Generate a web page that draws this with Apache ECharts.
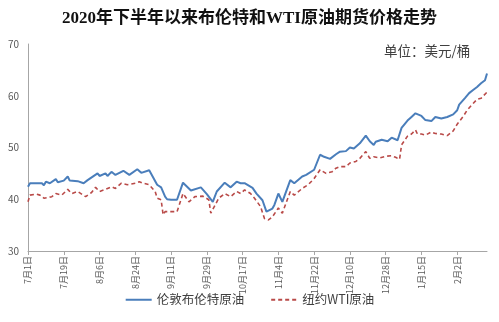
<!DOCTYPE html>
<html>
<head>
<meta charset="utf-8">
<script src="https://cdn.jsdelivr.net/npm/echarts@6/dist/echarts.min.js"></script>
<style>html,body{margin:0;padding:0;background:#fff;}#c{width:499px;height:322px;}</style>
</head>
<body>
<div id="c"></div>
<script>
// Day offsets counted from 2020-07-01 (calendar days)
const startDate = new Date(2020, 6, 1);
const tickLabelDays = [0, 18, 36, 54, 72, 90, 108, 126, 144, 162, 180, 198, 216];

const brentDays = [0,1,7,8,9,11,14,15,18,20,21,25,28,30,35,36,39,40,42,44,48,51,55,57,61,65,67,69,70,72,75,78,82,87,90,91,93,95,99,102,105,107,109,113,115,118,120,123,124,126,128,132,134,138,140,144,147,149,152,155,157,160,162,164,167,170,172,174,175,178,181,183,186,187,188,191,193,195,196,198,200,203,205,208,211,214,216,217,220,222,224,226,228,230,231];
const brent = [42.4,43.1,43.1,42.7,43.4,43.1,43.9,43.3,43.6,44.4,43.6,43.5,43.1,43.7,45.0,44.5,45.0,44.5,45.3,44.7,45.5,44.7,45.8,45.1,45.6,42.8,42.3,40.5,40.0,39.9,39.9,43.2,41.7,42.3,41.0,41.0,39.5,41.5,43.2,42.3,43.4,43.1,43.1,42.2,41.1,39.8,37.6,38.2,38.9,41.1,39.5,43.7,43.1,44.4,44.7,45.7,48.6,48.2,47.8,48.7,49.2,49.3,50.0,49.8,50.8,52.3,51.2,50.5,51.1,51.5,51.2,51.9,51.4,51.2,53.8,55.2,55.9,56.6,56.3,56.1,55.3,55.1,55.9,55.6,55.9,56.4,57.2,58.3,59.6,60.5,61.1,61.7,62.4,63.0,64.3];

const wtiDays = [0,1,4,6,8,9,12,14,17,20,22,25,29,32,34,36,39,42,44,47,50,54,56,58,61,64,65,67,68,69,72,75,78,81,84,88,91,92,96,99,102,105,107,109,112,114,117,119,121,123,126,128,132,134,138,141,144,147,150,153,155,157,160,162,165,167,170,172,174,177,180,183,185,187,188,191,193,195,196,198,200,203,205,208,211,212,214,216,219,221,224,226,228,229,231];
const wti = [39.5,40.8,41.0,40.8,40.2,40.5,40.5,41.1,40.8,41.9,41.1,41.5,40.5,41.3,42.3,41.5,41.9,42.4,42.1,43.1,42.8,43.1,43.4,43.1,42.8,41.5,40.2,39.9,37.0,37.6,37.6,37.6,41.1,39.5,40.5,40.6,39.9,37.3,40.2,41.1,40.5,41.5,41.1,41.8,41.1,40.2,38.6,36.3,36.0,36.6,38.3,37.3,41.5,40.8,42.1,42.8,44.0,45.7,45.0,45.3,46.0,46.3,46.3,47.0,47.3,47.9,49.2,47.9,48.2,48.0,48.3,48.4,48.1,47.7,50.5,52.2,52.6,53.4,52.6,52.6,52.4,53.0,52.7,52.6,52.3,52.2,53.2,54.5,56.0,57.2,58.5,59.3,59.5,59.5,60.7];

const seriesNames = ['伦敦布伦特原油', '纽约WTI原油'];
const titleText = '2020年下半年以来布伦特和WTI原油期货价格走势';
const unitText = '单位：美元/桶';

function dayLabel(d) {
  const dt = new Date(startDate.getTime());
  dt.setDate(dt.getDate() + d);
  return (dt.getMonth() + 1) + '月' + dt.getDate() + '日';
}

const chart = echarts.init(document.getElementById('c'), null, {renderer: 'canvas'});
const cjk = "'Noto Sans CJK SC', sans-serif";
chart.setOption({
  animation: false,
  backgroundColor: '#ffffff',
  title: [{
    text: titleText,
    left: 'center',
    top: 5,
    textStyle: {fontFamily: "'Liberation Serif', 'Noto Sans CJK SC', serif", fontWeight: 'bold', fontSize: 17, color: '#111'}
  }, {
    text: unitText,
    left: 379,
    top: 39,
    textStyle: {fontFamily: cjk, fontWeight: 'normal', fontSize: 13.5, color: '#404040'}
  }],
  legend: {
    bottom: 11,
    left: 'center',
    itemWidth: 26,
    itemHeight: 10,
    itemGap: 26,
    itemStyle: {opacity: 0},
    textStyle: {fontFamily: cjk, fontSize: 12.5, color: '#404040'},
    data: seriesNames
  },
  grid: {left: 28, right: 12, top: 44, bottom: 71, containLabel: false},
  xAxis: {
    type: 'value',
    min: 0,
    max: 231,
    interval: 18,
    splitLine: {show: false},
    axisLine: {lineStyle: {color: '#a6a6a6', width: 1}},
    axisTick: {show: true, length: 4, lineStyle: {color: '#a6a6a6'}},
    axisLabel: {
      rotate: 90,
      fontSize: 9,
      color: '#595959',
      fontFamily: cjk,
      margin: 5,
      showMaxLabel: false,
      formatter: function (v) { return tickLabelDays.indexOf(v) >= 0 ? dayLabel(v) : ''; }
    }
  },
  yAxis: {
    type: 'value',
    min: 30,
    max: 70,
    interval: 10,
    splitLine: {show: false},
    axisLine: {show: true, lineStyle: {color: '#a6a6a6', width: 1}},
    axisTick: {show: false},
    axisLabel: {fontSize: 10, color: '#595959', fontFamily: cjk, margin: 9}
  },
  series: [{
    name: seriesNames[0],
    type: 'line',
    symbol: 'none',
    data: brentDays.map((d, i) => [d, brent[i]]),
    lineStyle: {color: '#4a7ebb', width: 2},
    itemStyle: {color: '#4a7ebb'}
  }, {
    name: seriesNames[1],
    type: 'line',
    symbol: 'none',
    data: wtiDays.map((d, i) => [d, wti[i]]),
    lineStyle: {color: '#b94a48', width: 1.6, type: [4, 3]},
    itemStyle: {color: '#b94a48'}
  }]
});
</script>
</body>
</html>
